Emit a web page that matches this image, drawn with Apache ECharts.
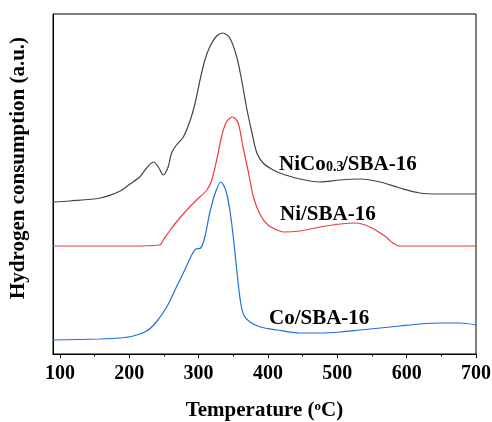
<!DOCTYPE html>
<html>
<head>
<meta charset="utf-8">
<script src="https://cdn.jsdelivr.net/npm/echarts@6/dist/echarts.min.js"></script>
<style>html,body{margin:0;padding:0;background:#fff}#c{width:492px;height:422px}</style>
</head>
<body>
<div id="c"></div>
<script>
// Temperature (°C) samples and signals (a.u.)
const tNiCo = [90,114,158,187,201,215,225,235,242,249,256,261,268,278,288,295,302,309,316,326,335,345,355,362,369,377,384,393,405,417,446,475,504,533,562,590,619,648,700];
const yNiCo = [152,153,156,163,170,177,186,192,187,179,187,201,209,217,234,251,274,294,307,318,321,316,297,274,247,221,201,191,185,181,175,172,174,175,172,166,161,160,160];

const tNi = [90,200,244,249,259,268,283,297,312,319,326,333,340,349,357,364,372,379,389,400,413,422,446,475,504,528,547,562,572,580,590,640,700];
const yNi = [108,108,109,114,124,132,144,154,164,174,194,217,232,237,231,207,181,157,139,129,124,122,123,127,130,131,127,121,116,111,108,108,108];

const tCo = [90,158,187,206,225,239,254,268,280,290,296,303,309,316,324,332,339,345,350,355,360,365,374,389,413,446,475,504,533,562,590,619,648,677,700];
const yCo = [14,15,16,18,23,32,47,67,84,99,105,106,117,141,161,172,164,144,117,84,54,39,32,27,24,21,21,22,24,26,28,30,31,31,29];

const xTicks = [100,200,300,400,500,600,700];
const xMinorTicks = [150,250,350,450,550,650];
const seriesNames = ['NiCo0.3/SBA-16','Ni/SBA-16','Co/SBA-16'];

const zip = (a,b) => a.map((v,i)=>[v,b[i]]);
const font = '"Liberation Serif","Times New Roman",serif';

const chart = echarts.init(document.getElementById('c'), null, {renderer:'canvas'});
const mk = (name, t, y, color) => ({
  name, type:'line', data: zip(t,y), smooth:0.3, symbol:'none',
  xAxisIndex:0, lineStyle:{color, width:1.2}, itemStyle:{color}
});
const lbl = {fontFamily:font, fontWeight:'bold', fontSize:21, fill:'#000'};
chart.setOption({
  animation:false,
  backgroundColor:'#fff',
  grid:{left:53, right:16, top:14, bottom:68, show:true, borderColor:'#000', borderWidth:1, containLabel:false, outerBoundsMode:'none'},
  xAxis:[{
    type:'value', min:90, max:700,
    axisLine:{show:true, lineStyle:{color:'#000', width:1}},
    axisTick:{show:true, length:4, customValues:xTicks, lineStyle:{color:'#000'}},
    splitLine:{show:false},
    axisLabel:{color:'#000', fontFamily:font, fontWeight:'bold', fontSize:20, margin:10, customValues:xTicks},
    name:'{t|Temperature (}{s|o}{t|C)}', nameLocation:'middle', nameGap:46,
    nameTextStyle:{rich:{
      t:{fontFamily:font, fontWeight:'bold', fontSize:21, color:'#000'},
      s:{fontFamily:font, fontWeight:'bold', fontSize:13, color:'#000', verticalAlign:'top', padding:[0,0,8,0]}
    }}
  },{
    type:'value', min:90, max:700, position:'bottom',
    axisLine:{show:false},
    axisTick:{show:true, length:2.5, customValues:xMinorTicks, lineStyle:{color:'#000'}},
    axisLabel:{show:false}, splitLine:{show:false}
  }],
  yAxis:{
    type:'value', min:0, max:340,
    axisLine:{show:true, lineStyle:{color:'#000', width:1}},
    axisTick:{show:false}, axisLabel:{show:false}, splitLine:{show:false}
  },
  series:[
    mk(seriesNames[0], tNiCo, yNiCo, '#444444'),
    mk(seriesNames[1], tNi, yNi, '#f03a3a'),
    mk(seriesNames[2], tCo, yCo, '#1f6fe0')
  ],
  graphic:[
    {type:'text', x:19, y:168, rotation:Math.PI/2, style:{text:'Hydrogen consumption (a.u.)', align:'center', verticalAlign:'middle', fontFamily:font, fontWeight:'bold', fontSize:21, fill:'#000'}},
    {type:'text', left:279, top:154, style:Object.assign({text:'NiCo'}, lbl)},
    {type:'text', left:326, top:160, style:{text:'0.3', fontFamily:font, fontWeight:'bold', fontSize:14, fill:'#000'}},
    {type:'text', left:342, top:154, style:Object.assign({text:'/SBA-16'}, lbl)},
    {type:'text', left:280, top:204, style:Object.assign({text:'Ni/SBA-16'}, lbl)},
    {type:'text', left:269, top:308, style:Object.assign({text:'Co/SBA-16'}, lbl)}
  ]
});
</script>
</body>
</html>
